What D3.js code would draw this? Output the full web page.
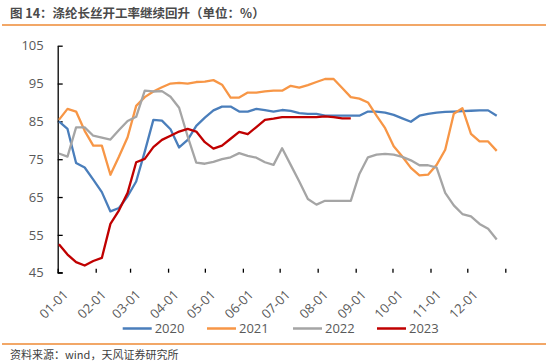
<!DOCTYPE html>
<html>
<head>
<meta charset="utf-8">
<script src="https://cdn.jsdelivr.net/npm/d3@7"></script>
<style>
  html, body { margin: 0; padding: 0; background: #fff; }
  svg { display: block; }
</style>
</head>
<body>
<svg id="chart" width="546" height="364"></svg>
<script>
// ---- data (weekly readings, % operating rate) ----
const seriesNames = ["2020", "2021", "2022", "2023"];
const seriesColors = ["#4a7ebb", "#f79646", "#a5a5a5", "#c00000"];
const weekStartDay = 2; // first reading ~Jan 2
const v2020 = [85.0, 83.0, 74.0, 72.8, 69.6, 66.3, 61.2, 62.1, 65.2, 69.1, 77.0, 85.4, 85.2, 82.9, 78.1, 80.1, 83.8, 86.0,
  87.9, 88.9, 88.9, 87.6, 87.6, 88.3, 88.0, 87.6, 88.0, 87.8, 87.2, 87.0, 87.0, 86.5, 86.5, 86.5, 86.5, 86.5,
  87.6, 87.6, 87.3, 86.7, 85.8, 84.9, 86.5, 87.0, 87.3, 87.5, 87.6, 87.7, 87.8, 87.9, 87.9, 86.5];
const v2021 = [85.4, 88.3, 87.6, 82.5, 78.6, 78.6, 70.9, 75.7, 80.8, 89.1, 91.4, 92.9, 94.0, 95.0, 95.2, 95.0, 95.4, 95.5,
  95.9, 94.7, 91.3, 91.3, 92.6, 92.6, 92.9, 93.1, 93.1, 94.4, 93.9, 94.6, 95.4, 96.2, 96.2, 93.8, 91.4, 91.0,
  90.0, 86.5, 83.2, 78.4, 75.7, 72.7, 70.7, 70.9, 73.5, 77.5, 87.0, 88.5, 81.7, 79.7, 79.7, 77.2];
const v2022 = [76.5, 75.7, 83.4, 83.4, 81.2, 80.7, 80.2, 82.7, 85.1, 86.2, 93.1, 92.9, 93.0, 91.5, 88.6, 81.0, 74.1, 73.8,
  74.3, 75.0, 75.5, 76.6, 75.9, 75.4, 74.2, 73.5, 77.9, 73.5, 69.1, 64.5, 63.0, 64.0, 64.0, 64.0, 64.0, 71.1,
  75.5, 76.2, 76.4, 76.2, 75.6, 74.7, 73.4, 73.4, 72.8, 66.1, 62.8, 60.5, 59.9, 57.9, 56.6, 53.8];
const v2023 = [52.5, 49.8, 47.8, 46.9, 48.1, 48.9, 57.9, 61.5, 66.1, 74.2, 75.1, 78.2, 80.1, 81.2, 82.3, 83.0, 82.3, 79.5,
  77.8, 78.6, 80.4, 82.2, 81.6, 83.5, 85.4, 85.7, 86.1, 86.1, 86.1, 86.1, 86.1, 86.3, 86.1, 85.8, 85.8];
const yTicks = [45, 55, 65, 75, 85, 95, 105];
const titleText = "图 14：涤纶长丝开工率继续回升（单位：%）";
const sourceText = "资料来源：wind，天风证券研究所";

// ---- layout ----
const svg = d3.select("#chart");
const X0 = 57.7, X1 = 505.3, YT = 45.7, YB = 272.7;
const orange = "#ee8a35";
const textColor = "#595959";
const fontNum = "'Open Sans', 'Noto Sans', sans-serif";
const fontCJK = "'Noto Sans CJK SC', 'Noto Sans', sans-serif";

const x = d3.scaleTime().domain([new Date(2021, 0, 1), new Date(2022, 0, 1)]).range([X0, X1]);
const y = d3.scaleLinear().domain([45, 105]).range([YB, YT]);

// title
svg.append("text").attr("x", 10).attr("y", 17.5)
  .attr("font-family", fontCJK).attr("font-size", 12.5).attr("font-weight", "bold")
  .attr("fill", "#4a4a4a").text(titleText);
svg.append("line").attr("x1", 2).attr("x2", 546).attr("y1", 25).attr("y2", 25)
  .attr("stroke", orange).attr("stroke-width", 1.3);

// y axis
const yAxis = d3.axisLeft(y).tickValues(yTicks).tickSize(-5).tickPadding(14).tickSizeOuter(0);
const gy = svg.append("g").attr("transform", `translate(${X0},0)`).call(yAxis);
gy.select(".domain").attr("stroke", "#000").attr("stroke-width", 1.3);
gy.selectAll(".tick line").attr("stroke", "#000").attr("stroke-width", 1.3);
gy.selectAll(".tick text").attr("font-family", fontNum).attr("font-size", 13)
  .attr("fill", textColor);

// x axis (ticks only, pointing up)
const monthTicks = d3.timeMonth.range(new Date(2021, 0, 1), new Date(2022, 0, 2));
const fmt = d3.timeFormat("%m-%d");
const xAxis = d3.axisBottom(x).tickValues(monthTicks).tickSize(-4).tickSizeOuter(0).tickFormat("");
const gx = svg.append("g").attr("transform", `translate(0,${YB})`).call(xAxis);
gx.select(".domain").remove();
gx.selectAll(".tick line").attr("stroke", "#000").attr("stroke-width", 1.3);
gx.selectAll(".tick").filter(d => d.getFullYear() === 2021).append("text")
  .attr("text-anchor", "end")
  .attr("font-family", fontNum).attr("font-size", 13).attr("fill", textColor)
  .attr("transform", "translate(4,16) rotate(-45)")
  .attr("dy", "0.75em")
  .text(d => fmt(d));
// small corner at axis origin
svg.append("line").attr("x1", X0).attr("x2", X0 + 5).attr("y1", YB).attr("y2", YB)
  .attr("stroke", "#000").attr("stroke-width", 1.3);

// series lines
const allValues = [v2020, v2021, v2022, v2023];
const line = d3.line()
  .x((d, i) => x(new Date(2021, 0, weekStartDay + 7 * i)))
  .y(d => y(d));
allValues.forEach((vals, k) => {
  svg.append("path").datum(vals).attr("d", line)
    .attr("fill", "none").attr("stroke", seriesColors[k]).attr("stroke-width", 2.3)
    .attr("stroke-linejoin", "round");
});

// legend
const legendX = [122.7, 207, 293, 377];
const lg = svg.append("g");
seriesNames.forEach((n, k) => {
  lg.append("line").attr("x1", legendX[k]).attr("x2", legendX[k] + 29)
    .attr("y1", 328.5).attr("y2", 328.5)
    .attr("stroke", seriesColors[k]).attr("stroke-width", 2.5);
  lg.append("text").attr("x", legendX[k] + 32).attr("y", 333)
    .attr("font-family", fontNum).attr("font-size", 13).attr("fill", textColor).text(n);
});

// bottom rule + source
svg.append("line").attr("x1", 2).attr("x2", 546).attr("y1", 344).attr("y2", 344)
  .attr("stroke", orange).attr("stroke-width", 1.3);
svg.append("text").attr("x", 10).attr("y", 359)
  .attr("font-family", fontCJK).attr("font-size", 11).attr("fill", "#404040").text(sourceText);
</script>
</body>
</html>
